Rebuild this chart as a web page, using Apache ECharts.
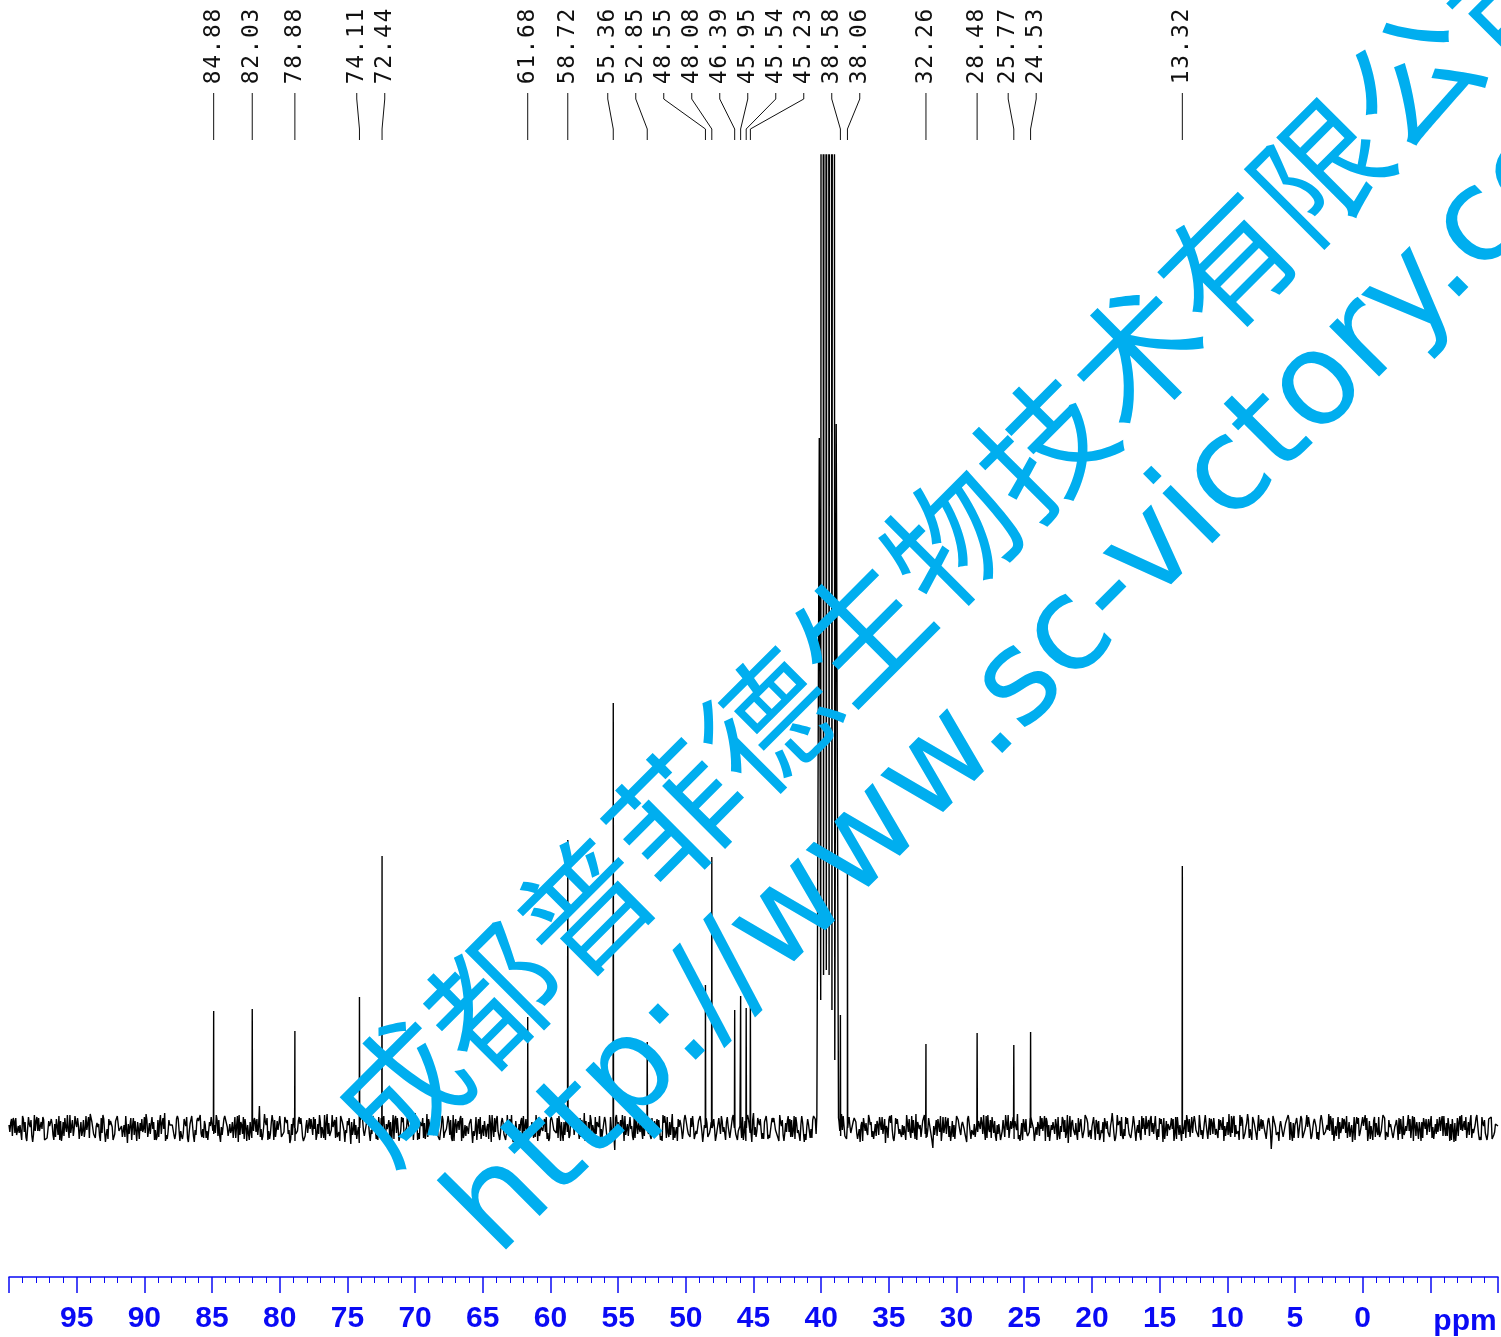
<!DOCTYPE html>
<html>
<head>
<meta charset="utf-8">
<script src="https://cdn.jsdelivr.net/npm/echarts@6/dist/echarts.min.js"></script>
<style>
html,body{margin:0;padding:0;background:#fff;}
#c{width:1501px;height:1337px;}
</style>
</head>
<body>
<div id="c"></div>
<script>
// ---- data ----
const peakPpm = [84.88, 82.03, 78.88, 74.11, 72.44, 61.68, 58.72, 55.36, 52.85, 48.55, 48.08, 46.39, 45.95, 45.54, 45.23, 38.58, 38.06, 32.26, 28.48, 25.77, 24.53, 13.32];
const peakHeight = [117, 119, 97, 131, 272, 111, 288, 425, 86, 143, 271, 118, 132, 120, 125, 113, 258, 84, 95, 83, 96, 262];
// DMSO-d6 solvent septet (lines and valleys between them)
const solventPpm = [40.32, 40.14, 40.035, 39.93, 39.825, 39.72, 39.62, 39.52, 39.415, 39.31, 39.205, 39.10, 38.995, 38.89, 38.72];
const solventVal = [12, 690, 128, 4000, 153, 4000, 158, 4000, 153, 4000, 118, 4000, 68, 704, 10];
// baseline noise read across the spectrum (100 ppm -> -10 ppm), on-grid samples
const noise = [
3,-8,10,-5,12,-9,4,-14,7,-3,11,-10,2,-7,9,-12,6,-4,13,-8,1,
-11,8,-2,14,-6,5,-13,9,-1,7,-10,12,-5,3,-15,10,-7,6,-3,11,-9,
4,-12,8,-6,15,-4,2,-11,9,-8,5,-14,12,-2,7,-9,3,-13,10,-5,8,
-7,11,-3,6,-10,13,-6,1,-12,9,-4,22,-8,3,-11,7,-2,12,-9,5,-15,
10,-6,4,-13,8,-1,11,-7,6,-10,14,-5,2,-9,12,-3,7,-16,9,-4,6,
-8,13,-2,5,-12,10,-6,3,-21,8,-1,11,-9,4,-7,15,-5,2,-11,9,-3,
7,-10,12,-4,6,-13,9,-2,10,-8,4,-15,11,-6,3,-9,13,-1,8,-12,5,
-5,9,-14,7,-3,12,-8,2,-10,14,-6,5,-11,8,-2,10,-13,6,-4,11,-7,
3,-9,15,-5,8,-12,4,-1,11,-7,9,-22,6,-3,12,-8,2,-10,7,-4,13,
-6,10,-2,8,-13,5,-9,14,-4,1,-11,9,-6,12,-3,7,-14,10,-5,3,-8,
11,-4,6,-10,13,-7,2,-12,8,-5,15,-3,9,-11,4,-8,10,-2,6,-13,7,
-9,12,-5,3,-14,9,-1,10,-7,6,-12,11,-4,2,-10,14,-8,5,-3,9,-11,
6,-3,13,-9,4,-7,11,-15,8,-2,10,-6,3,-12,9,-5,14,-1,7,-10,4,
-20,8,-4,11,-6,2,-9,12,-3,6,-14,10,-7,5,-1,13,-10,8,-5,3,-12,
9,-2,7,-11,14,-5,4,-8,10,-13,6,-1,12,-9,3,-6,11,-4,8,-15,5,
-7,10,-3,13,-9,1,-12,7,-5,9,-2,15,-10,4,-8,11,-6,3,-13,8,-1,
12,-8,5,-4,10,-14,7,-2,9,-11,3,-6,13,-9,6,-1,11,-12,4,-7,10,
-3,8,-13,6,-9,12,-5,2,-10,14,-7,4,-11,9,-2,7,-21,10,-4,5,-9,
13,-6,3,-10,9,-1,11,-8,5,-12,8,-4,14,-7,2,-11,10,-5,6,-14,4,
-8,11,-2,7,-12,5,-9,13,-4,1,-10,8,-6,12,-3,9,-13,6,-1,10,-7,
5,-11,9,-3,12,-8,4,-14,10,-2,7,-9,13,-5,3,-12,8,-6,11,-4,2
];
// baseline noise, samples a quarter step after the on-grid ones
const noiseQ1 = [
-4,10,-7,3,9,-13,1,-6,11,-2,8,-10,5,-12,2,7,-8,13,-5,-1,10,
6,-9,-3,12,-7,1,10,-4,-11,8,-6,13,2,-9,4,-12,7,-1,9,-5,-8,
11,-2,-9,5,-13,8,3,-6,10,-11,2,-4,12,-7,9,-1,-10,6,-3,13,-8,
-5,12,4,-10,2,-7,11,-13,6,-3,9,-9,1,10,-6,-12,7,3,-4,8,-11,
7,-3,10,-12,-5,9,-1,4,-10,13,-6,-2,8,-9,11,-14,3,6,-7,1,12,
-10,5,-6,1,11,-4,-9,8,-2,12,-13,6,-7,3,9,-1,-11,10,-5,7,-3,
4,-12,8,-1,-7,13,-5,9,-10,2,6,-3,-12,11,-8,1,5,-9,12,-4,-6,
13,-6,2,-11,7,-3,10,-8,4,-13,1,9,-5,11,-2,-10,6,-7,3,12,-9,
-2,8,-13,6,-4,11,1,-9,7,-5,-12,10,-3,13,-7,2,-8,9,-1,-11,5,
10,-7,4,-2,13,-10,6,-12,1,8,-4,11,-9,3,-6,12,-13,5,-1,9,-8,
-6,1,11,-9,3,-12,8,-4,13,-1,-7,10,-2,6,-11,4,9,-10,2,-5,12,
8,-11,-2,12,-6,4,-10,9,-3,1,13,-8,5,-12,7,-2,-9,11,-4,6,-1,
-13,5,9,-3,-8,11,-6,2,12,-10,4,-1,-7,13,-5,8,-12,3,10,-9,6,
2,-8,12,-5,6,-13,3,10,-7,-1,9,-11,4,-4,11,-2,13,-10,7,-6,-12,
-9,13,-1,7,-11,5,-4,-8,12,-6,2,10,-13,3,-2,9,-7,11,-10,1,8,
5,-4,-10,11,-7,2,8,-12,6,-1,-9,13,-3,7,-11,4,-6,12,-2,-8,10,
-1,9,-6,-12,4,10,-8,3,-13,11,-5,1,7,-10,12,-3,-7,6,-11,9,2,
-10,6,2,-7,12,-9,-3,11,-5,8,-12,4,13,-1,-6,10,-8,1,-13,7,5,
8,-13,6,-2,-10,4,12,-7,1,-11,9,-5,-3,10,-8,6,-1,12,-9,-4,11,
-5,2,10,-11,7,-3,-8,13,-6,4,-12,1,9,-7,5,-10,11,-2,-13,8,3,
12,-9,-4,7,-1,10,-12,5,-8,13,-2,6,-10,3,-6,11,-5,9,-11,4
];
// baseline noise, samples half-way between the on-grid ones
const noiseMid = [
5,7,-9,2,-4,-11,8,13,-3,6,-12,-2,9,4,-7,-13,10,-1,-6,12,3,
-8,-2,11,6,-10,4,-5,-14,9,1,7,-3,-9,12,-6,2,8,-11,-4,14,5,
-1,-12,6,10,-7,3,-2,9,-13,-5,11,4,-8,7,13,-10,-3,2,-6,8,-14,
9,1,-5,-9,12,6,-11,3,-4,10,-7,-1,14,-12,5,8,-2,-9,11,-6,4,
-13,7,2,-8,-3,11,9,-6,1,-12,5,13,-10,-4,6,-2,10,-7,3,-15,8,
2,-6,12,-11,-1,7,4,-9,13,-5,-8,10,1,-3,-12,9,6,-10,14,-2,-7,
11,-4,-10,5,8,-13,3,12,-6,-1,9,-8,2,-11,7,4,-14,10,-3,6,-9,
-2,13,-7,-5,10,1,-12,6,-9,11,3,-4,-13,8,-1,12,-6,5,-10,2,9,
-11,4,7,-14,3,-6,12,-2,8,-10,-5,13,-1,6,-9,11,-12,2,-4,10,7,
-8,-3,9,-12,5,11,-7,1,-13,4,8,-2,10,-11,-6,14,3,-9,6,-1,-10,
12,-5,2,-8,13,-3,-10,7,9,-14,1,6,-11,4,-7,10,-2,-13,8,5,-4,
-9,11,-1,6,-12,3,8,-6,-2,13,-10,5,9,-7,-3,12,-11,2,7,-5,-14,
10,-4,3,-11,7,12,-8,-1,5,-13,9,-6,2,11,-10,-3,6,-9,13,-2,4,
-7,9,-13,1,10,-5,-11,8,3,-6,12,-2,-9,7,5,-12,-1,11,-8,4,-3,
13,-10,6,2,-7,-12,9,-4,11,1,-8,-3,10,-13,6,3,-11,8,-5,12,-1,
-6,4,-12,9,-2,11,5,-9,-14,7,2,-5,13,-8,-1,10,-10,6,3,-12,8,
-3,12,-7,-1,9,-11,4,10,-6,2,-13,8,-4,11,6,-9,-2,13,-12,5,-7,
9,-2,-8,14,-5,3,-12,7,1,-10,11,-6,-3,8,-11,4,12,-7,2,-9,6,
-12,5,10,-4,-9,13,-1,6,-11,8,-7,3,12,-13,2,-5,9,-10,-2,11,4,
-6,8,-13,2,11,-7,-3,10,-9,5,1,-12,7,-4,13,-8,3,-11,6,-1,9,
-10,4,-5,12,-8,2,9,-13,6,-3,11,-7,-1,10,-12,5,-6,8,-9,3
];
// baseline noise, samples three quarters of a step after the on-grid ones
const noiseQ3 = [
9,-5,2,-12,6,11,-8,-3,10,-1,-13,7,4,-9,12,-6,1,-10,8,5,-11,
-3,12,-10,7,1,-8,13,-6,3,-12,9,-2,-7,11,-4,10,-13,5,-1,8,-6,
6,-9,13,-1,-11,4,-7,12,-3,9,-10,2,-14,10,-5,7,-12,11,3,-8,1,
12,-8,-2,11,-14,3,9,-5,-10,7,1,-12,6,-3,13,-9,4,-11,10,-2,-7,
-6,11,-9,2,10,-7,-12,13,-4,5,-8,1,11,-13,6,-5,9,-2,-11,8,-3,
3,-13,9,-7,-4,12,-1,6,-11,10,-3,-8,13,-6,2,-12,8,5,-9,1,11,
-8,1,-5,12,-10,4,7,-13,3,-6,11,-2,9,-9,5,-11,13,-4,-1,10,-12,
2,-10,7,4,-12,9,-6,1,13,-8,-3,11,-10,6,-5,3,-13,12,-7,8,-1,
10,-4,-11,13,-2,6,-9,5,-12,11,-7,2,8,-13,4,-1,10,-6,12,-8,-3,
-11,7,-1,-8,12,-5,3,-10,9,-2,13,-6,1,-12,7,-4,11,-9,5,-13,10,
7,-12,4,10,-6,-1,11,-13,2,8,-9,3,-5,12,-10,6,-2,13,-7,-4,9,
-3,5,-13,8,1,-10,12,-7,-4,11,-2,9,-12,6,-8,13,3,-5,10,-11,2,
11,-7,6,-12,3,-2,9,-10,13,-5,7,-9,1,-4,12,-11,8,-1,-6,10,-13,
-5,10,-3,11,-9,7,-12,2,6,-8,13,-1,-10,5,-6,12,-4,9,-13,3,8,
4,-8,11,-2,-13,9,-5,10,-1,-7,12,-3,6,-11,8,-12,2,-4,13,-9,1,
-12,9,-1,5,-11,13,-6,-2,10,-4,7,-13,3,11,-8,1,-10,6,-5,12,-7,
8,-4,12,-9,2,-13,6,-1,11,-7,3,-10,9,-5,-2,13,-11,4,10,-6,-1,
-2,11,-7,-4,9,-6,13,-11,5,-1,8,-12,2,10,-9,-3,12,-5,7,-10,4,
6,-10,3,12,-8,1,-11,9,-4,13,-6,-2,7,-13,11,-1,5,-9,3,-12,10,
-7,13,-5,1,-9,11,-2,-12,8,-6,4,10,-11,2,-3,12,-8,6,-10,9,-4,
1,-6,11,-8,5,-13,9,-3,12,-1,-10,7,-5,13,-9,2,-12,10,-7,6
];
const xTickLabels = [95, 90, 85, 80, 75, 70, 65, 60, 55, 50, 45, 40, 35, 30, 25, 20, 15, 10, 5, 0];
const axisUnit = 'ppm';
const watermarkCN = '成都普菲德生物技术有限公司';
const watermarkURL = 'http://www.sc-victory.com';

// ---- build spectrum trace ----
const ppmStart = 100, ppmEnd = -10;
const step = (ppmStart - ppmEnd) / (noise.length - 1);
const pts = [];
const solHi = solventPpm[0], solLo = solventPpm[solventPpm.length - 1];
function addNoise(p, v) {
  if (p <= solHi && p >= solLo) return;
  pts.push([p, v]);
}
noise.forEach((v, i) => addNoise(ppmStart - i * step, v));
[[noiseQ1, 0.25], [noiseMid, 0.5], [noiseQ3, 0.75]].forEach(([arr, off]) => {
  arr.forEach((v, i) => { if (i < noise.length - 1) addNoise(ppmStart - (i + off) * step, v); });
});
peakPpm.forEach((p, i) => {
  pts.push([p + 0.02, 0]);
  pts.push([p, peakHeight[i]]);
  pts.push([p - 0.02, 0]);
});
solventPpm.forEach((p, i) => pts.push([p, solventVal[i]]));
pts.sort((a, b) => b[0] - a[0]);

const BLUE = '#0a0af5';
const chart = echarts.init(document.getElementById('c'), null, {renderer: 'canvas'});
chart.setOption({
  animation: false,
  backgroundColor: '#ffffff',
  grid: {left: 9, right: 1, top: 155, bottom: 60, containLabel: false},
  xAxis: {
    type: 'value', inverse: true, min: -10, max: 100, interval: 5,
    axisLine: {show: true, onZero: false, lineStyle: {color: BLUE, width: 1.5}},
    axisTick: {show: true, length: 16, lineStyle: {color: BLUE, width: 1.5}},
    minorTick: {show: true, splitNumber: 5, length: 6, lineStyle: {color: BLUE, width: 1}},
    splitLine: {show: false}, minorSplitLine: {show: false},
    axisLabel: {
      margin: 27, color: BLUE, fontSize: 30, fontWeight: 'bold', fontFamily: 'Liberation Sans, Arial, sans-serif',
      formatter: v => (xTickLabels.indexOf(v) >= 0 ? String(v) : '')
    }
  },
  yAxis: {type: 'value', min: -149, max: 973, show: false, splitLine: {show: false}},
  series: [{
    type: 'line', data: pts, showSymbol: false, symbol: 'none', clip: true,
    sampling: null, progressive: 0, lineStyle: {color: '#000', width: 1.4}, z: 2
  }]
});

// ---- peak labels with connectors ----
function buildGraphics() {
  const g = [];
  const items = peakPpm.map(p => ({p, px: chart.convertToPixel({gridIndex: 0}, [p, 0])[0]}));
  items.sort((a, b) => a.px - b.px);
  const SP = 28;
  let groups = items.map(it => ({members: [it], center: it.px}));
  let merged = true;
  while (merged) {
    merged = false;
    for (let i = 0; i < groups.length - 1; i++) {
      const a = groups[i], b = groups[i + 1];
      const aR = a.center + (a.members.length - 1) * SP / 2;
      const bL = b.center - (b.members.length - 1) * SP / 2;
      if (bL - aR < SP) {
        const m = a.members.concat(b.members);
        const c = m.reduce((s, x) => s + x.px, 0) / m.length;
        groups.splice(i, 2, {members: m, center: c});
        merged = true;
        break;
      }
    }
  }
  const PITCH = 15.4;
  groups.forEach(gr => {
    const n = gr.members.length;
    gr.members.forEach((it, k) => {
      const lx = gr.center + (k - (n - 1) / 2) * SP;
      const txt = it.p.toFixed(2);
      for (let c = 0; c < txt.length; c++) {
        g.push({
          type: 'text', x: lx, y: 85 - (c + 0.5) * PITCH, rotation: Math.PI / 2, z: 50,
          style: {text: txt[c], fill: '#111', font: '23px "DejaVu Sans Mono", monospace', align: 'center', verticalAlign: 'middle'}
        });
      }
      g.push({
        type: 'polyline', z: 50,
        shape: {points: [[lx, 93], [lx, 99], [it.px, 129], [it.px, 140]]},
        style: {stroke: '#111', lineWidth: 1, fill: null}
      });
    });
  });
  // axis unit
  g.push({type: 'text', x: 1465, y: 1322, z: 50,
    style: {text: axisUnit, fill: BLUE, font: 'bold 30px "Liberation Sans", Arial, sans-serif', align: 'center', verticalAlign: 'middle'}});
  // watermark
  g.push({type: 'text', x: 952, y: 538, rotation: Math.PI / 4, z: 100,
    style: {text: watermarkCN, fill: '#00aeef', font: '130px "Noto Sans CJK SC", sans-serif', align: 'center', verticalAlign: 'middle'}});
  g.push({type: 'text', x: 474, y: 1234, rotation: Math.PI / 4, z: 100,
    style: {text: watermarkURL, fill: '#00aeef', font: '129px "DejaVu Sans", sans-serif', align: 'left', verticalAlign: 'middle'}});
  chart.setOption({graphic: {elements: g}});
}
buildGraphics();
</script>
</body>
</html>
